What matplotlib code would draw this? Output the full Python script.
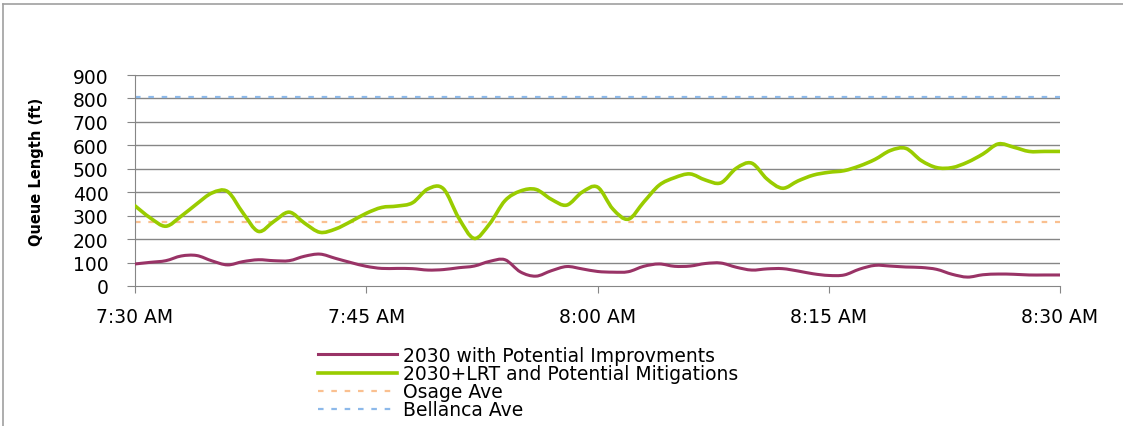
import numpy as np
import matplotlib
matplotlib.use('Agg')
import matplotlib.pyplot as plt
from matplotlib.lines import Line2D
from matplotlib.path import Path
from matplotlib.patches import PathPatch

# minutes after 7:30 AM, one reading per minute
minutes=np.arange(0,61)
improvements=[94,101,108,128,130,107,90,104,112,108,108,127,136,118,100,84,75,75,74,68,
              70,78,85,105,112,60,42,65,83,73,62,59,61,84,94,84,85,96,98,80,
              68,73,74,64,52,45,47,72,88,85,81,79,71,50,38,48,51,50,47,47,47]
lrt_mitigations=[342,290,255,298,350,397,403,312,233,275,315,268,229,243,275,310,335,341,355,414,
                 415,290,203,265,364,405,412,370,345,400,422,328,285,358,430,462,478,452,440,502,
                 524,456,417,448,473,485,492,512,540,578,587,535,505,505,528,563,606,592,574,574,574]
osage_ave=275
bellanca_ave=805
tick_minutes=[0,15,30,45,60]
tick_labels=['7:30 AM','7:45 AM','8:00 AM','8:15 AM','8:30 AM']
labels=['2030 with Potential Improvments','2030+LRT and Potential Mitigations','Osage Ave','Bellanca Ave']

def smooth_path(x,y):
    # excel-style smoothed line: bezier segments through every reading
    pts=np.column_stack([x,y]).astype(float)
    n=len(pts)
    verts=[pts[0]]
    codes=[Path.MOVETO]
    for i in range(n-1):
        p0=pts[max(i-1,0)];p1=pts[i];p2=pts[i+1];p3=pts[min(i+2,n-1)]
        verts+=[p1+(p2-p0)/6,p2-(p3-p1)/6,p2]
        codes+=[Path.CURVE4]*3
    return Path(verts,codes)

fig=plt.figure(figsize=(11.23,4.27),dpi=100)
ax=fig.add_axes([135/1123,140/427,925/1123,211/427])

grid_c='#868686'
for v in range(100,1000,100):
    ax.axhline(v,color=grid_c,lw=1,zorder=1)

purple='#993366'
green='#99CC00'
ax.add_patch(PathPatch(smooth_path(minutes,improvements),fill=False,edgecolor=purple,lw=2.2,
                       joinstyle='round',capstyle='round',zorder=3))
ax.add_patch(PathPatch(smooth_path(minutes,lrt_mitigations),fill=False,edgecolor=green,lw=2.6,
                       joinstyle='round',capstyle='round',zorder=3))
ax.plot([minutes[0],minutes[-1]],[osage_ave,osage_ave],color='#FAC090',lw=1.6,dashes=(2.5,3.5),zorder=2)
ax.plot([minutes[0],minutes[-1]],[bellanca_ave,bellanca_ave],color='#8DB9EA',lw=1.6,dashes=(2.5,3.5),zorder=2)

ax.set_xlim(0,60)
ax.set_ylim(0,900)
ax.set_yticks(range(0,1000,100))
ax.set_xticks(tick_minutes)
ax.set_xticklabels(tick_labels)
for s in ['top','right']:
    ax.spines[s].set_visible(False)
for s in ['left','bottom']:
    ax.spines[s].set_color(grid_c)
ax.tick_params(axis='y',direction='out',length=6,color=grid_c,pad=13,labelsize=13.5)
ax.tick_params(axis='x',direction='out',length=5,color=grid_c,pad=10,labelsize=13.5)
ax.set_ylabel('Queue Length (ft)',fontsize=10.5,fontweight='bold')
ax.yaxis.set_label_coords(-0.098,0.545)

handles=[Line2D([],[],color=purple,lw=2.2),
         Line2D([],[],color=green,lw=2.6),
         Line2D([],[],color='#FAC090',lw=1.6,dashes=(2.5,3.5)),
         Line2D([],[],color='#8DB9EA',lw=1.6,dashes=(2.5,3.5))]
ax.legend(handles,labels,loc='upper left',bbox_to_anchor=(318/1123,1-347/427),bbox_transform=fig.transFigure,
          frameon=False,fontsize=13.5,handlelength=4.2,handletextpad=0.35,labelspacing=-0.05,
          borderpad=0,borderaxespad=0)

# chart area border
fig.add_artist(Line2D([3/1123,3/1123],[0,1-5/427],color='#A0A0A0',lw=1.2,transform=fig.transFigure))
fig.add_artist(Line2D([3/1123,1],[1-5/427,1-5/427],color='#A0A0A0',lw=1.2,transform=fig.transFigure))

plt.savefig('out.png',dpi=100)
plt.close()
